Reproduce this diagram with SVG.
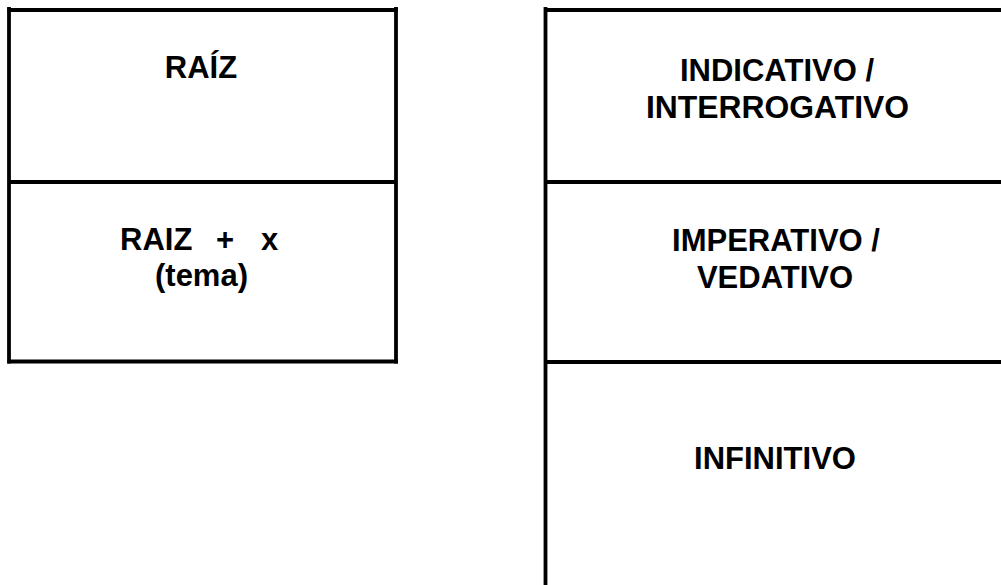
<svg xmlns="http://www.w3.org/2000/svg" width="1001" height="585" viewBox="0 0 1001 585">
  <style>
    .rule { stroke: #000; stroke-width: 3.8; fill: none; }
    .label { font-family: "Liberation Sans", Arial, sans-serif; font-weight: bold; font-size: 31px; fill: #000; text-anchor: middle; }
  </style>
  <rect width="1001" height="585" fill="#fff"/>

  <!-- table frames -->
  <g id="connectors">
    <!-- left table -->
    <line class="rule" x1="7.5" y1="10" x2="398" y2="10"/>
    <line class="rule" x1="9" y1="7" x2="9" y2="363.5"/>
    <line class="rule" x1="396" y1="7" x2="396" y2="363.5"/>
    <line class="rule" x1="9" y1="182" x2="396" y2="182"/>
    <line class="rule" x1="7.5" y1="361.5" x2="398" y2="361.5"/>
    <!-- right table -->
    <line class="rule" x1="545.5" y1="7" x2="545.5" y2="585"/>
    <line class="rule" x1="545.5" y1="10" x2="1001" y2="10"/>
    <line class="rule" x1="545.5" y1="182" x2="1001" y2="182"/>
    <line class="rule" x1="545.5" y1="362" x2="1001" y2="362"/>
  </g>

  <g id="raiz">
    <text class="label" x="201" y="78">RAÍZ</text>
  </g>

  <g id="tema">
    <text class="label" style="text-anchor:start" y="250"><tspan x="120">RAIZ</tspan><tspan x="216">+</tspan><tspan x="261">x</tspan></text>
    <text class="label" x="201.5" y="286">(tema)</text>
  </g>

  <g id="indicativo">
    <text class="label" x="777" y="81">INDICATIVO /</text>
    <text class="label" x="777.5" y="118" textLength="263" lengthAdjust="spacingAndGlyphs">INTERROGATIVO</text>
  </g>

  <g id="imperativo">
    <text class="label" x="776" y="251">IMPERATIVO /</text>
    <text class="label" x="775" y="288">VEDATIVO</text>
  </g>

  <g id="infinitivo">
    <text class="label" x="775" y="469">INFINITIVO</text>
  </g>
</svg>
